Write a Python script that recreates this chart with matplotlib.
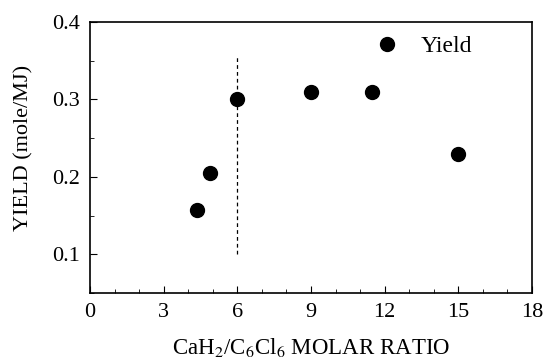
import matplotlib
matplotlib.use('Agg')
import matplotlib.pyplot as plt
from matplotlib.ticker import MultipleLocator

ratio = [4.35, 4.9, 6.0, 9.0, 11.5, 15.0]
yld = [0.157, 0.205, 0.300, 0.309, 0.310, 0.230]
cut_x = 6.0
cut_y = [0.10, 0.355]

plt.rcParams['font.family'] = ['Liberation Serif', 'DejaVu Serif']
plt.rcParams['mathtext.fontset'] = 'stix'

fig = plt.figure(figsize=(5.44, 3.63), dpi=100)
ax = fig.add_axes([0.1654, 0.1928, 0.8126, 0.7466])
ax.plot(ratio, yld, 'o', color='black', markersize=10, label='Yield')
ax.plot([cut_x, cut_x], cut_y, '--', color='black', lw=0.9, dashes=(3, 2.5))
ax.set_xlim(0, 18)
ax.set_ylim(0.05, 0.4)
ax.xaxis.set_major_locator(MultipleLocator(3))
ax.xaxis.set_minor_locator(MultipleLocator(1))
ax.yaxis.set_major_locator(MultipleLocator(0.1))
ax.yaxis.set_minor_locator(MultipleLocator(0.05))
ax.set_yticks([0.1, 0.2, 0.3, 0.4])
ax.set_yticklabels(['0.1', '0.2', '0.3', '0.4'])
ax.tick_params(which='both', direction='in', labelsize=16, top=False, right=False)
ax.tick_params(which='major', length=5, pad=7)
ax.tick_params(which='minor', length=3)
for s in ax.spines.values():
    s.set_linewidth(1.2)
ax.set_xlabel(r'CaH$_2$/C$_6$Cl$_6$ MOLAR RATIO', fontsize=16.5, labelpad=10)
ax.set_ylabel('YIELD (mole/MJ)', fontsize=16)
ax.yaxis.set_label_coords(-0.128, 0.535)
ax.legend(loc='upper right', frameon=False, fontsize=17, handletextpad=0.4,
          bbox_to_anchor=(0.907, 1.02), borderaxespad=0.4)
fig.savefig('out.png', dpi=100)
